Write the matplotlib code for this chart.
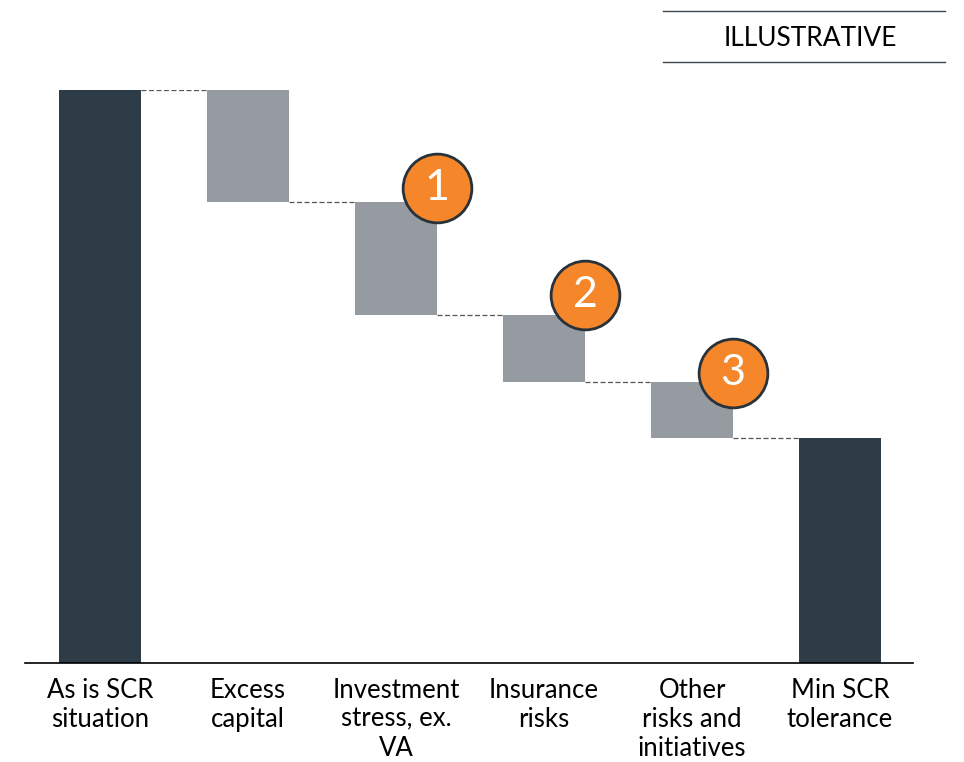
import matplotlib.pyplot as plt

# waterfall data (share of the "as is" SCR)
categories = ["As is SCR\nsituation", "Excess\ncapital", "Investment\nstress, ex.\nVA",
              "Insurance\nrisks", "Other\nrisks and\ninitiatives", "Min SCR\ntolerance"]
start_value = 100.0
steps = [19.5, 19.7, 11.7, 9.9]
badges = ["1", "2", "3"]          # numbered markers on steps 2..4
badge_lift = [14, 20, 9]          # pixels above the step top

dark = "#2d3c47"
grey = "#969ba1"
orange = "#f5862a"

plt.rcParams['font.family'] = ['Lato', 'DejaVu Sans']

fig = plt.figure(figsize=(9.64, 7.62), dpi=100)
ax = fig.add_axes([25 / 964, 99 / 762, 888 / 964, 573 / 762])

width = 0.554
x = list(range(len(categories)))
ax.set_xlim(-0.507, 5.493)
ax.set_ylim(0, start_value)

# totals
end_value = start_value - sum(steps)
ax.bar(x[0], start_value, width, color=dark, zorder=2)
ax.bar(x[-1], end_value, width, color=dark, zorder=2)

# falling steps
level = start_value
tops = []
for i, s in enumerate(steps):
    ax.bar(x[i + 1], s, width, bottom=level - s, color=grey, zorder=2)
    tops.append(level)
    level -= s

# dashed connectors
levels = [start_value]
for s in steps:
    levels.append(levels[-1] - s)
for i, lv in enumerate(levels):
    ax.plot([x[i] + width / 2, x[i + 1] - width / 2], [lv, lv],
            color="#555555", lw=0.9, ls=(0, (4, 2)), zorder=1)

# numbered badges
for k, b in enumerate(badges):
    xi = x[k + 2] + width / 2
    yi = tops[k + 1]
    # shift up in pixels
    px = ax.transData.transform((xi, yi))
    xd, yd = ax.transData.inverted().transform((px[0], px[1] + badge_lift[k]))
    ax.scatter([xd], [yd], s=2450, color=orange, edgecolor="#28323a",
               linewidth=2.0, zorder=4, clip_on=False)
    ax.text(xd, yd, b, color="white", fontsize=31, ha="center", va="center",
            zorder=5)

ax.set_xticks(x)
ax.set_xticklabels(categories, fontsize=18.5, linespacing=1.2, va="top")
ax.tick_params(axis="x", length=0, pad=10.5)
ax.set_yticks([])
for side in ["top", "right", "left"]:
    ax.spines[side].set_visible(False)
ax.spines["bottom"].set_color("black")
ax.spines["bottom"].set_linewidth(1.2)

# "ILLUSTRATIVE" tag
fig.add_artist(plt.Line2D([663 / 964, 945 / 964], [1 - 11 / 762, 1 - 11 / 762],
                          color="#3a4650", lw=1.0))
fig.add_artist(plt.Line2D([663 / 964, 945 / 964], [1 - 62 / 762, 1 - 62 / 762],
                          color="#3a4650", lw=1.0))
fig.text(810 / 964, 1 - 39 / 762, "ILLUSTRATIVE", fontsize=19, ha="center",
         va="center", color="black")

fig.savefig("out.png", dpi=100)
